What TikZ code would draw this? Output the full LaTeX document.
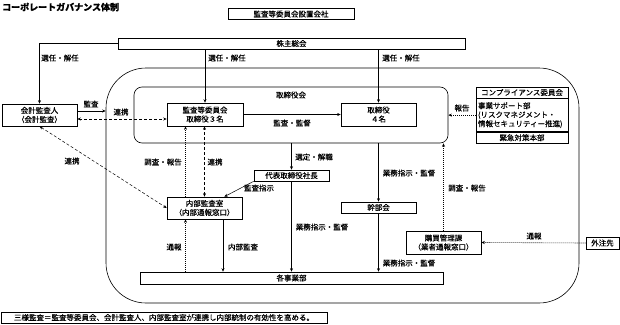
\documentclass[tikz,border=0pt]{standalone}
\usepackage{fontspec}
\setmainfont{Noto Sans CJK JP}[FakeBold=0.4]
\usetikzlibrary{arrows.meta}
\tikzset{
  box/.style={draw, line width=0.6pt, inner sep=0pt, align=center, font=\fontsize{7.5}{9}\selectfont},
  lbl/.style={inner sep=0pt, font=\fontsize{7.5}{9}\selectfont},
  conn/.style={line width=0.5pt, -{Stealth[length=3.5pt,width=3pt]}},
  dconn/.style={line width=0.5pt, {Stealth[length=3.5pt,width=3pt]}-{Stealth[length=3.5pt,width=3pt]}, dash pattern=on 3pt off 2pt},
  dotconn/.style={line width=0.6pt, -{Stealth[length=3.5pt,width=3pt]}, dash pattern=on 1pt off 1pt},
}
\begin{document}
\begin{tikzpicture}[x=1pt,y=-1pt]
\useasboundingbox (0,0) rectangle (620,324);
% title
\node[lbl, anchor=west, font=\fontsize{9}{10}\selectfont\bfseries] (title) at (2,7) {コーポレートガバナンス体制};
\node[box, minimum width=126pt, minimum height=11pt] (kaisha) at (291,14) {監査等委員会設置会社};
\node[box, minimum width=347pt, minimum height=11pt] (kabu) at (291.5,43.5) {株主総会};
% containers
\node[draw, line width=0.6pt, rounded corners=40pt, minimum width=473pt, minimum height=235pt, inner sep=0pt] (outer) at (342.5,185.5) {};
\node[draw, line width=0.6pt, rounded corners=8pt, minimum width=314pt, minimum height=56pt, inner sep=0pt] (board) at (291,115) {};
\node[lbl] (boardlbl) at (291,95) {取締役会};
% boxes
\node[box, minimum width=76pt, minimum height=23pt] (kansa) at (205,114.5) {監査等委員会\\取締役３名};
\node[box, minimum width=75pt, minimum height=23pt] (tori) at (378.5,114.5) {取締役\\４名};
\node[box, minimum width=75pt, minimum height=22pt] (kaikei) at (39.5,115) {会計監査人\\（会計監査）};
\node[box, minimum width=75pt, minimum height=22pt] (naibu) at (204.5,208) {内部監査室\\（内部通報窓口）};
\node[box, minimum width=75pt, minimum height=11pt] (shacho) at (291.5,175.5) {代表取締役社長};
\node[box, minimum width=75pt, minimum height=11pt] (kanbu) at (378.5,207.5) {幹部会};
\node[box, minimum width=303pt, minimum height=12pt] (jigyo) at (291.5,278) {各事業部};
\node[box, minimum width=75pt, minimum height=23pt] (kobai) at (443.5,242.5) {購買管理課\\（業者通報窓口）};
\node[box, minimum width=33pt, minimum height=12pt] (gaichu) at (602.5,243) {外注先};
% compliance
\node[box, minimum width=92pt, minimum height=11pt] (comph) at (522,92.5) {コンプライアンス委員会};
\node[box, minimum width=92pt, minimum height=33pt, anchor=north, align=left, text width=88pt] (compm) at (comph.south) {事業サポート部\\(リスクマネジメント・\\情報セキュリティー推進)};
\node[box, minimum width=92pt, minimum height=11pt, anchor=north] (compb) at (compm.south) {緊急対策本部};
\node[box, minimum width=326pt, minimum height=11pt] (footer) at (164,317.5) {三様監査＝監査等委員会、会計監査人、内部監査室が連携し内部統制の有効性を高める。};
% connectors
\draw[conn] (kabu.west) -| (kaikei.north);
\draw[conn] (kansa.north |- kabu.south) -- (kansa.north);
\draw[conn] (tori.north |- kabu.south) -- (tori.north);
\draw[conn] (kansa.east) -- (tori.west);
\coordinate (ka) at ([yshift=4pt]kaikei.east);
\draw[conn] (ka) -- (ka -| outer.west);
\coordinate (kb) at ([yshift=-4pt]kaikei.east);
\draw[dconn] (kb) -- (kb -| kansa.west);
\draw[dconn] (kaikei.south) -- (naibu.west);
\coordinate (n1) at ([xshift=-19pt]naibu.north);
\draw[dotconn] (n1) -- (n1 |- kansa.south);
\draw[dconn] (naibu.north) -- (naibu.north |- kansa.south);
\draw[conn] (shacho.north |- board.south) -- (shacho.north);
\coordinate (ne) at ([xshift=-18pt]naibu.north east);
\draw[conn] (shacho.south west) -- (ne);
\draw[conn] (shacho.south) -- (shacho.south |- jigyo.north);
\coordinate (n2) at ([xshift=18.5pt]naibu.south);
\draw[conn] (n2) -- (n2 |- jigyo.north);
\coordinate (n3) at ([xshift=-19pt]naibu.south);
\draw[dotconn] (n3 |- jigyo.north) -- (n3);
\draw[conn] (kanbu.north |- board.south) -- (kanbu.north);
\draw[conn] (kanbu.south) -- (kanbu.south |- jigyo.north);
\draw[dotconn] (kobai.north) -- (kobai.north |- board.south);
\draw[dotconn] (gaichu.west) -- (kobai.east);
\coordinate (cm) at (compm.west);
\draw[dotconn] (cm) -- (cm -| board.east);
% labels
\node[lbl] (l1) at (60,58) {選任・解任};
\node[lbl] (l2) at (227,58) {選任・解任};
\node[lbl] (l3) at (401,58) {選任・解任};
\node[lbl] (l4) at (292,123) {監査・監督};
\node[lbl] (l5) at (91,104) {監査};
\node[lbl] (l6) at (121,112) {連携};
\node[lbl] (l7) at (72,161) {連携};
\node[lbl] (l8) at (163,162) {調査・報告};
\node[lbl] (l9) at (215,162) {連携};
\node[lbl] (l10) at (314,157) {選定・解職};
\node[lbl] (l11) at (259,188) {監査指示};
\node[lbl] (l12) at (322,227) {業務指示・監督};
\node[lbl] (l13) at (409,173) {業務指示・監督};
\node[lbl] (l14) at (409,263) {業務指示・監督};
\node[lbl] (l15) at (243,247) {内部監査};
\node[lbl] (l16) at (174,247) {通報};
\node[lbl] (l17) at (467,188) {調査・報告};
\node[lbl] (l18) at (534,236) {通報};
\node[lbl] (l19) at (462,108) {報告};
\end{tikzpicture}
\end{document}
